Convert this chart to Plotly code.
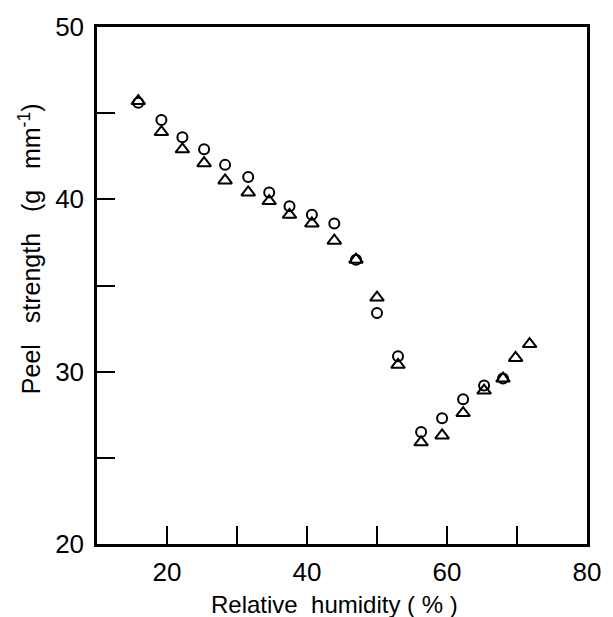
import plotly.graph_objects as go

# Relative humidity (%) at each measurement
humidity = [15.9, 19.2, 22.2, 25.3, 28.3, 31.6, 34.6, 37.5, 40.7, 43.9,
            47.0, 50.0, 53.0, 56.3, 59.3, 62.3, 65.3, 68.0]
# Peel strength (g mm^-1), circle series
peel_circle = [45.6, 44.6, 43.6, 42.9, 42.0, 41.3, 40.4, 39.6, 39.1, 38.6,
               36.5, 33.4, 30.9, 26.5, 27.3, 28.4, 29.2, 29.6]

# Triangle series extends to higher humidity
humidity_tri = [15.9, 19.2, 22.2, 25.3, 28.3, 31.6, 34.6, 37.5, 40.7, 43.9,
                47.0, 50.0, 53.0, 56.3, 59.3, 62.3, 65.3, 68.0, 69.8, 71.8]
peel_triangle = [45.7, 43.9, 42.9, 42.1, 41.1, 40.4, 39.9, 39.1, 38.6, 37.6,
                 36.5, 34.3, 30.4, 25.9, 26.3, 27.6, 28.9, 29.6, 30.8, 31.6]

x_tick_vals = [20, 40, 60, 80]
y_tick_vals = [20, 30, 40, 50]

FONT = "Liberation Sans"

fig = go.Figure()
fig.add_trace(go.Scatter(
    x=humidity, y=peel_circle, mode="markers",
    marker=dict(symbol="circle-open", size=10, color="black",
                line=dict(width=2, color="black")),
    showlegend=False,
))
fig.add_trace(go.Scatter(
    x=humidity_tri, y=peel_triangle, mode="markers",
    marker=dict(symbol="triangle-up-open", size=12, color="black",
                line=dict(width=2, color="black")),
    showlegend=False,
))

axis_common = dict(
    showline=True, linecolor="black", linewidth=2.5, mirror=True,
    showgrid=False, zeroline=False,
    ticks="inside", ticklen=18, tickwidth=2, tickcolor="black",
    tickfont=dict(family=FONT, size=26, color="black"),
)

fig.update_xaxes(range=[10, 80], tickvals=x_tick_vals,
                 ticktext=[str(v) for v in x_tick_vals],
                 minor=dict(tickvals=[30, 50, 70], ticks="inside", ticklen=18,
                            tickwidth=2, tickcolor="black"),
                 ticklabelstandoff=3,
                 **axis_common)
fig.update_yaxes(range=[20, 50], tickvals=y_tick_vals,
                 ticktext=[str(v) for v in y_tick_vals],
                 minor=dict(tickvals=[25, 35, 45], ticks="inside", ticklen=18,
                            tickwidth=2, tickcolor="black"),
                 ticklabelstandoff=5,
                 **axis_common)

fig.add_annotation(text="Relative&nbsp; humidity&nbsp;(&nbsp;%&nbsp;)",
                   xref="paper", yref="paper",
                   x=0.485, y=-0.117, showarrow=False, yanchor="middle",
                   font=dict(family=FONT, size=24, color="black"))
fig.add_annotation(text="Peel&nbsp;&nbsp; strength&nbsp;&nbsp; (g&nbsp;&nbsp; mm<sup>-1</sup>)",
                   xref="paper", yref="paper", x=-0.137, y=0.572,
                   showarrow=False, textangle=-90,
                   xanchor="center", yanchor="middle",
                   font=dict(family=FONT, size=25, color="black"))

fig.update_layout(
    width=613, height=617,
    margin=dict(l=97, r=15, t=25, b=73),
    paper_bgcolor="white", plot_bgcolor="white",
)

fig.write_html("out.html")
